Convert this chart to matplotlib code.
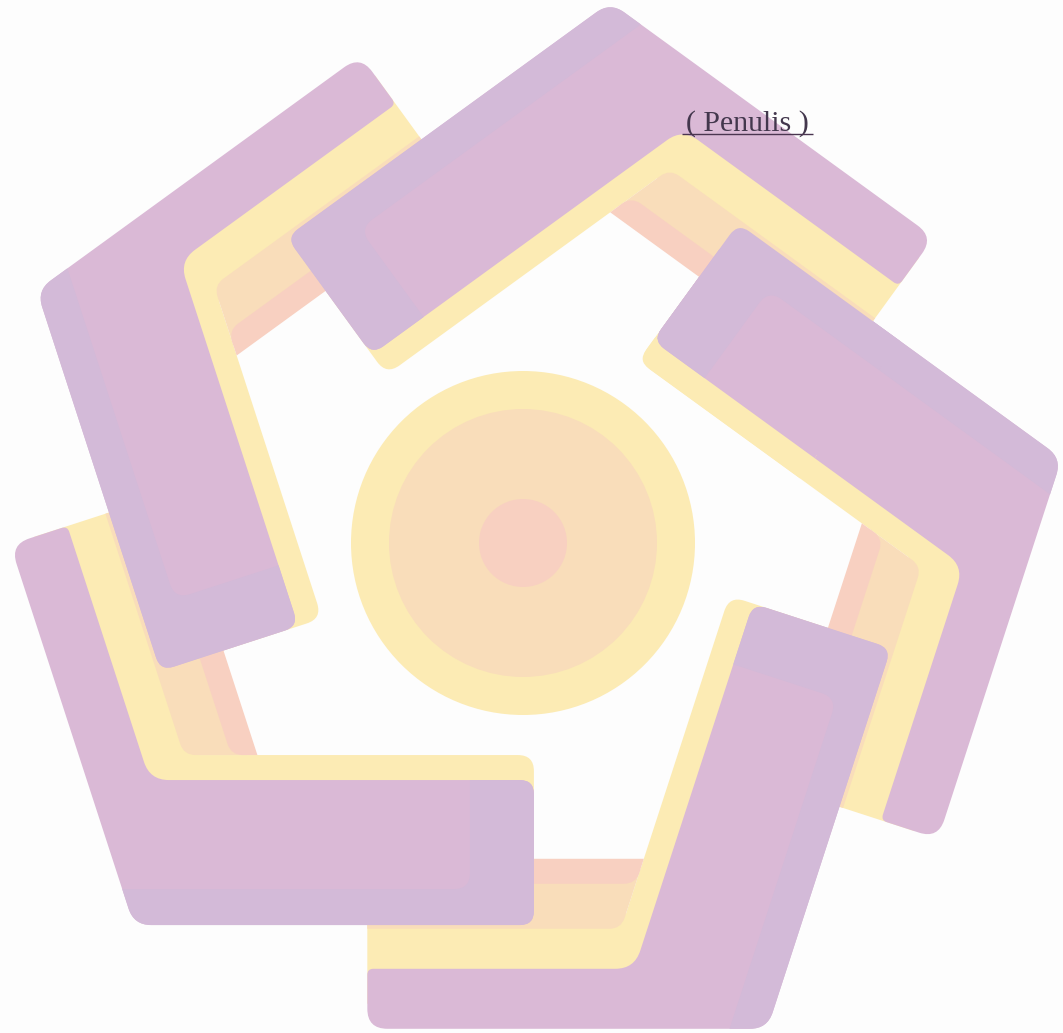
import numpy as np
import matplotlib
matplotlib.use("Agg")
import matplotlib.pyplot as plt
from matplotlib.path import Path
from matplotlib.patches import PathPatch, Circle

# ---------------- data ----------------
W, H = 1063, 1033
BG = "#FDFDFD"

CENTER = (522.0, 541.0)          # rotation centre of the five arms (px)
APEX_RADIUS = 546.0              # distance centre -> outer corner of each arm
APEX_ANGLE0 = 80.7               # polar angle of the top arm's corner (deg)
ARM_STEP = 72.0                  # five arms
ARM_DRAW_ORDER = [4, 3, 2, 1, 0]
ARM_ON_TOP_AGAIN = 4             # closes the pinwheel overlap
OVERLAY_START = 200              # part of that arm's thick leg drawn again

THICK_LEG_LEN = 400
THIN_LEG_LEN = 400
PURPLE_DEPTH = [145, 60]         # thick side, thin side
YELLOW_DEPTH = [170, 100]
PEACH_DEPTH = 145
PINK_DEPTH = 170
LAVENDER_EDGE = 36
LAVENDER_END = 64

RING_CENTER = (523.0, 543.0)
RING_RADII = [172, 134, 44]
RING_COLORS = ["#FCEBB4", "#F9DDBA", "#F8D0C1"]

PURPLE = "#DAB9D6"
LAVENDER = "#D3BAD8"
YELLOW = "#FCEBB4"
PEACH = "#F9DDBA"
PINK = "#F8D0C1"

LABEL = "( Penulis )"
LABEL_POS = (747, 131)
LABEL_SPAN = (682, 813)
LABEL_COLOR = "#43374D"


# ---------------- helpers ----------------
def unit(deg):
    r = np.radians(deg)
    return np.array([np.cos(r), np.sin(r)])


def rounded_path(pts, radii):
    n = len(pts)
    verts, codes = [], []
    for i in range(n):
        V = np.asarray(pts[i], float)
        r = radii[i]
        if r <= 0:
            verts.append(V)
            codes.append(Path.LINETO)
            continue
        P = np.asarray(pts[i - 1], float)
        N = np.asarray(pts[(i + 1) % n], float)
        a = P - V
        la = np.linalg.norm(a)
        a = a / la
        b = N - V
        lb = np.linalg.norm(b)
        b = b / lb
        ang = np.arccos(np.clip(a @ b, -1, 1))
        t = r / np.tan(ang / 2)
        t = min(t, 0.45 * la, 0.45 * lb)
        verts += [V + a * t, V, V + b * t]
        codes += [Path.LINETO, Path.CURVE3, Path.CURVE3]
    codes[0] = Path.MOVETO
    verts.append(verts[0])
    codes.append(Path.CLOSEPOLY)
    return Path(verts, codes)


class Arm:
    def __init__(self, k):
        phi = np.radians(ARM_STEP * k)
        c, s = np.cos(phi), np.sin(phi)
        R = np.array([[c, -s], [s, c]])
        self.A = R @ (APEX_RADIUS * unit(APEX_ANGLE0))
        self.e1 = R @ unit(216)
        self.e2 = R @ unit(-36)
        self.n1 = R @ unit(-54)
        self.n2 = R @ unit(234)
        self.M = np.vstack([self.n1, self.n2])

    def img(self, v):
        return (CENTER[0] + v[0], CENTER[1] - v[1])

    def thick(self, t, a):
        return self.img(self.A + t * self.e1 + a * self.n1)

    def thin(self, t, b):
        return self.img(self.A + t * self.e2 + b * self.n2)

    def corner(self, a, b):
        x = np.linalg.solve(self.M, np.array([a, b], float))
        return self.img(self.A + x)


def add_shapes(ax, shapes, z):
    for color, pts, radii in shapes:
        ax.add_patch(PathPatch(rounded_path(pts, radii), facecolor=color,
                               edgecolor="none", lw=0, zorder=z))


def arm_shapes(arm):
    L1, L2 = THICK_LEG_LEN, THIN_LEG_LEN
    W1, W2 = PURPLE_DEPTH
    Y1, Y2 = YELLOW_DEPTH
    return [
        (YELLOW, [arm.thick(L1, 25), arm.corner(25, 25), arm.thin(L2, 25),
                  arm.thin(L2, Y2 + 15), arm.corner(Y1, Y2 + 15), arm.thick(L1, Y1)],
         [0, 0, 0, 6, 0, 16]),
        (PEACH, [arm.corner(Y1, Y2), arm.thin(L2, Y2), arm.thin(L2, PEACH_DEPTH + 15),
                 arm.corner(Y1, PEACH_DEPTH + 15)], [16, 0, 0, 0]),
        (PINK, [arm.corner(Y1, PEACH_DEPTH), arm.thin(L2, PEACH_DEPTH),
                arm.thin(L2, PINK_DEPTH), arm.corner(Y1, PINK_DEPTH)], [16, 0, 0, 0]),
        (PURPLE, [arm.thick(L1, 0), arm.corner(0, 0), arm.thin(L2, 0),
                  arm.thin(L2, W2), arm.corner(W1, W2), arm.thick(L1, W1)],
         [14, 24, 20, 6, 26, 14]),
        (LAVENDER, [arm.corner(0, 0), arm.thick(L1, 0), arm.thick(L1, W1),
                    arm.thick(L1 - LAVENDER_END, W1),
                    arm.thick(L1 - LAVENDER_END, LAVENDER_EDGE),
                    arm.corner(LAVENDER_EDGE, 0)], [24, 14, 14, 0, 16, 0]),
    ]


def thick_end_shapes(arm, t0):
    # each layer only where it stays visible, so the cut at t0 leaves no seam
    L1 = THICK_LEG_LEN
    W1 = PURPLE_DEPTH[0]
    Y1 = YELLOW_DEPTH[0]
    E = LAVENDER_EDGE
    return [
        (YELLOW, [arm.thick(t0, W1 - 4), arm.thick(L1, W1 - 4), arm.thick(L1, Y1),
                  arm.thick(t0, Y1)], [0, 0, 16, 0]),
        (PURPLE, [arm.thick(t0, E - 4), arm.thick(L1, E - 4), arm.thick(L1, W1),
                  arm.thick(t0, W1)], [0, 0, 14, 0]),
        (LAVENDER, [arm.thick(t0, 0), arm.thick(L1, 0), arm.thick(L1, W1),
                    arm.thick(L1 - LAVENDER_END, W1),
                    arm.thick(L1 - LAVENDER_END, E),
                    arm.thick(t0, E)], [0, 14, 14, 0, 16, 0]),
    ]


# ---------------- figure ----------------
fig = plt.figure(figsize=(W / 100, H / 100), dpi=100)
fig.patch.set_facecolor(BG)
ax = fig.add_axes([0, 0, 1, 1])
ax.set_xlim(0, W)
ax.set_ylim(H, 0)
ax.axis("off")
ax.set_facecolor(BG)

for i, k in enumerate(ARM_DRAW_ORDER):
    add_shapes(ax, arm_shapes(Arm(k)), 2 + 0.1 * i)

# the end of one arm goes on top again, closing the pinwheel
add_shapes(ax, thick_end_shapes(Arm(ARM_ON_TOP_AGAIN), OVERLAY_START), 2.9)

# central rings
for r, c in zip(RING_RADII, RING_COLORS):
    ax.add_patch(Circle(RING_CENTER, r, facecolor=c, edgecolor="none", lw=0, zorder=3))

# label
ax.text(LABEL_POS[0], LABEL_POS[1], LABEL, ha="center", va="baseline",
        fontsize=21.5, family=["Liberation Serif", "DejaVu Serif"],
        color=LABEL_COLOR, zorder=5)
ax.plot(LABEL_SPAN, [LABEL_POS[1] + 3, LABEL_POS[1] + 3], color="#4A3550", lw=1.0, zorder=5,
        solid_capstyle="butt")

fig.savefig("out.png", dpi=100, facecolor=BG)
